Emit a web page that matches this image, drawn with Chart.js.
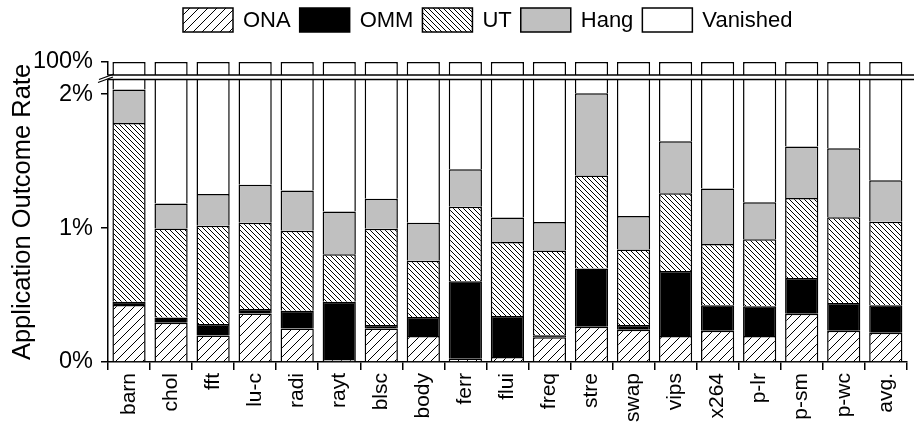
<!DOCTYPE html>
<html>
<head>
<meta charset="utf-8">
<script src="https://cdn.jsdelivr.net/npm/chart.js@4"></script>
<style>
  html, body { margin: 0; padding: 0; background: #fff; }
  #wrap { width: 914px; height: 433px; }
</style>
</head>
<body>
<div id="wrap"><canvas id="c" width="914" height="433"></canvas></div>
<script>
// Outcome rates per application, in percent of all injections.
const categories = ['barn', 'chol', 'fft', 'lu-c', 'radi', 'rayt', 'blsc', 'body', 'ferr',
  'flui', 'freq', 'stre', 'swap', 'vips', 'x264', 'p-lr', 'p-sm', 'p-wc', 'avg.'];

const onaValues = [0.425, 0.293, 0.197, 0.363, 0.251, 0.015, 0.251, 0.194, 0.025,
  0.037, 0.184, 0.264, 0.241, 0.194, 0.234, 0.194, 0.361, 0.234, 0.219];
const ommValues = [0.025, 0.040, 0.087, 0.033, 0.132, 0.435, 0.025, 0.142, 0.579,
  0.306, 0.015, 0.435, 0.035, 0.485, 0.189, 0.222, 0.266, 0.206, 0.204];
const utValues = [1.336, 0.664, 0.733, 0.644, 0.597, 0.354, 0.719, 0.420, 0.555,
  0.553, 0.634, 0.694, 0.565, 0.582, 0.458, 0.500, 0.597, 0.642, 0.624];
const hangValues = [0.249, 0.187, 0.237, 0.283, 0.301, 0.320, 0.224, 0.284, 0.281,
  0.184, 0.212, 0.614, 0.249, 0.388, 0.415, 0.278, 0.386, 0.515, 0.311];
const vanishedValues = [97.965, 98.816, 98.746, 98.677, 98.719, 98.876, 98.781, 98.960, 98.560,
  98.920, 98.955, 97.993, 98.910, 98.351, 98.704, 98.806, 98.390, 98.403, 98.642];

const tickValues = [0, 1, 2, 100];

const FONT = "'Liberation Sans', Arial, Helvetica, sans-serif";

// Value axis with a break: 0..LOW_MAX fills the main band, HIGH_MIN..100 a thin band on top.
const LOW_MAX = 2.11;
const HIGH_MIN = 99.9;
const TOP_BAND = 13;
const GAP = 4.5;

class BrokenLinearScale extends Chart.LinearScale {
  static id = 'brokenLinear';
  static defaults = Chart.LinearScale.defaults;

  buildTicks() {
    this.start = 0;
    this.end = 100;
    return tickValues.map(v => ({ value: v }));
  }
  bands() {
    const upperBottom = this.top + TOP_BAND;
    return { upperBottom, lowerTop: upperBottom + GAP };
  }
  getPixelForValue(value) {
    if (value === null || value === undefined) return NaN;
    const { lowerTop } = this.bands();
    if (value <= LOW_MAX) return this.bottom - value / LOW_MAX * (this.bottom - lowerTop);
    if (value >= HIGH_MIN) return this.top + (100 - value) / (100 - HIGH_MIN) * TOP_BAND;
    return lowerTop - (value - LOW_MAX) / (HIGH_MIN - LOW_MAX) * GAP;
  }
  getValueForPixel(pixel) {
    const { upperBottom, lowerTop } = this.bands();
    if (pixel >= lowerTop) return (this.bottom - pixel) / (this.bottom - lowerTop) * LOW_MAX;
    if (pixel <= upperBottom) return 100 - (pixel - this.top) / TOP_BAND * (100 - HIGH_MIN);
    return LOW_MAX + (lowerTop - pixel) / GAP * (HIGH_MIN - LOW_MAX);
  }
}
Chart.register(BrokenLinearScale);

const canvas = document.getElementById('c');
const ctx = canvas.getContext('2d');

function makeHatch(step, dir, lw) {
  const c = document.createElement('canvas');
  c.width = step; c.height = step;
  const g = c.getContext('2d');
  g.fillStyle = '#fff';
  g.fillRect(0, 0, step, step);
  g.strokeStyle = '#000';
  g.lineWidth = lw;
  g.beginPath();
  for (const o of [-step, 0, step]) {
    if (dir === 'fwd') { g.moveTo(o, step); g.lineTo(o + step, 0); }
    else { g.moveTo(o, 0); g.lineTo(o + step, step); }
  }
  g.stroke();
  return ctx.createPattern(c, 'repeat');
}

const onaFill = makeHatch(9, 'fwd', 1);
const utFill = makeHatch(5, 'back', 1);

const barStyle = {
  borderColor: '#000',
  borderWidth: { top: 1.5, left: 1.5, right: 1.5, bottom: 0 },
  borderSkipped: false,
  barPercentage: 0.79,
  categoryPercentage: 1.0
};

// Draws the axis break: blank band, double rule across the plot, slashes on the axis.
const axisBreak = {
  id: 'axisBreak',
  afterDatasetsDraw(chart) {
    const y = chart.scales.y;
    const { upperBottom, lowerTop } = y.bands();
    const g = chart.ctx;
    const left = chart.chartArea.left;
    g.save();
    g.fillStyle = '#fff';
    g.fillRect(left - 9, upperBottom, chart.width - left + 9, GAP);
    g.strokeStyle = '#000';
    g.lineWidth = 1.5;
    g.beginPath();
    g.moveTo(left - 0.5, upperBottom); g.lineTo(chart.width, upperBottom);
    g.moveTo(left - 0.5, lowerTop); g.lineTo(chart.width, lowerTop);
    g.stroke();
    g.lineWidth = 1.3;
    g.beginPath();
    g.moveTo(left - 9, upperBottom + 4.5); g.lineTo(left + 6, upperBottom - 1);
    g.moveTo(left - 10, upperBottom + 7.5); g.lineTo(left + 5, upperBottom + 2);
    g.stroke();
    g.restore();
  }
};

// Legend row across the top, using each dataset's fill.
const topLegend = {
  id: 'topLegend',
  afterDraw(chart) {
    const g = chart.ctx;
    g.save();
    g.font = `22px ${FONT}`;
    g.textBaseline = 'middle';
    g.textAlign = 'left';
    let x = 183;
    const yTop = 8, bw = 50, bh = 24;
    for (const ds of chart.data.datasets) {
      g.fillStyle = ds.backgroundColor;
      g.fillRect(x, yTop, bw, bh);
      g.strokeStyle = '#000';
      g.lineWidth = 1.5;
      g.strokeRect(x, yTop, bw, bh);
      g.fillStyle = '#000';
      g.fillText(ds.label, x + bw + 10, yTop + bh / 2 + 1);
      x += bw + 10 + g.measureText(ds.label).width + 9;
    }
    g.restore();
  }
};

new Chart(canvas, {
  type: 'bar',
  data: {
    labels: categories,
    datasets: [
      { label: 'ONA', data: onaValues, backgroundColor: onaFill, ...barStyle },
      { label: 'OMM', data: ommValues, backgroundColor: '#000', ...barStyle },
      { label: 'UT', data: utValues, backgroundColor: utFill, ...barStyle },
      { label: 'Hang', data: hangValues, backgroundColor: '#c0c0c0', ...barStyle },
      { label: 'Vanished', data: vanishedValues, backgroundColor: '#fff', ...barStyle }
    ]
  },
  options: {
    responsive: false,
    animation: false,
    devicePixelRatio: 1,
    layout: { padding: { top: 62, right: 1, left: 0, bottom: 0 } },
    plugins: { legend: { display: false }, tooltip: { enabled: false } },
    scales: {
      x: {
        stacked: true,
        grid: { display: true, drawOnChartArea: false, drawTicks: true, tickLength: 8, color: '#000', lineWidth: 1.5 },
        border: { display: true, color: '#000', width: 1.5 },
        ticks: { color: '#000', font: { family: FONT, size: 21 }, minRotation: 90, maxRotation: 90, autoSkip: false, padding: 3 },
        afterFit: s => { s.height = 71; }
      },
      y: {
        type: 'brokenLinear',
        stacked: true,
        min: 0,
        max: 100,
        grid: { display: true, drawOnChartArea: false, drawTicks: true, tickLength: 7, color: '#000', lineWidth: 1.5 },
        border: { display: true, color: '#000', width: 1.5 },
        ticks: { color: '#000', font: { family: FONT, size: 23.5 }, padding: 8, autoSkip: false, callback: v => v + '%' },
        title: { display: true, text: 'Application Outcome Rate', color: '#000', font: { family: FONT, size: 25.5 }, padding: { top: 8, bottom: 0 } },
        afterFit: s => { s.width = 108; }
      }
    }
  },
  plugins: [axisBreak, topLegend]
});
</script>
</body>
</html>
